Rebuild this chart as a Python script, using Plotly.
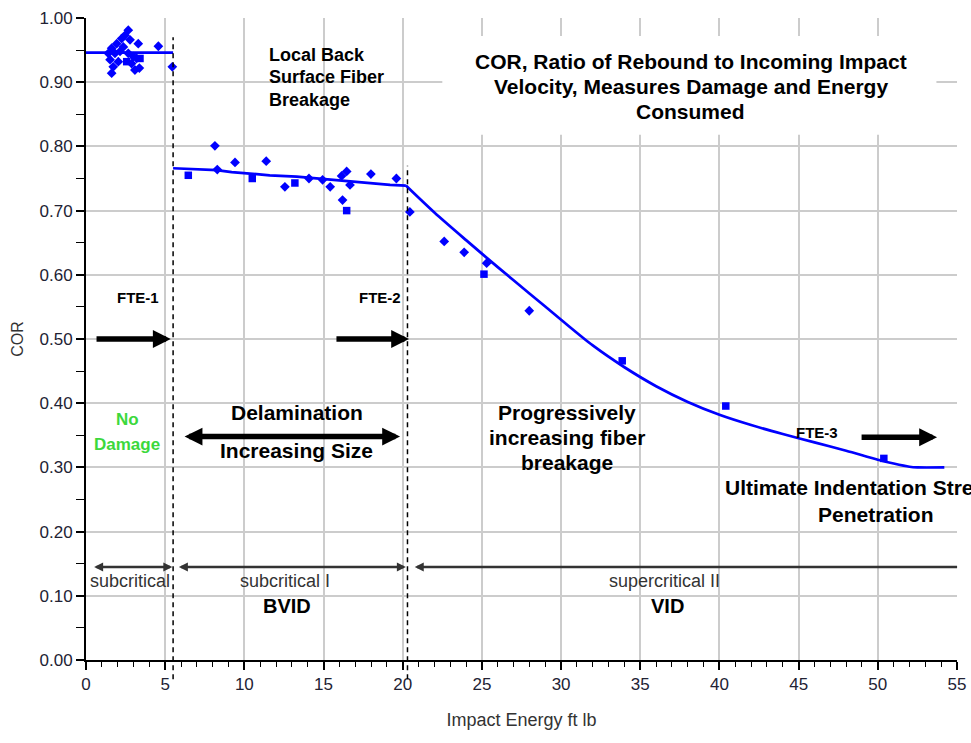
import plotly.graph_objects as go

# ---------------- data ----------------
diamond_x = [2.67, 2.46, 2.25, 3.30, 4.57, 1.94, 1.62, 1.41, 1.83, 2.15, 1.52, 2.04, 1.72, 1.62,
             2.67, 2.99, 3.20, 2.88, 3.09, 3.37, 2.36, 2.78, 5.45,
             8.14, 8.29, 9.41, 11.38, 12.56, 14.08, 14.94, 15.42, 16.14, 16.46, 16.67, 16.2,
             17.99, 19.6, 20.45, 22.62, 23.88, 25.3, 27.99]
diamond_y = [0.981, 0.973, 0.968, 0.960, 0.956, 0.960, 0.953, 0.945, 0.945, 0.948, 0.935, 0.932, 0.924, 0.914,
             0.945, 0.940, 0.937, 0.929, 0.919, 0.922, 0.955, 0.966, 0.924,
             0.801, 0.764, 0.775, 0.777, 0.737, 0.750, 0.748, 0.737, 0.754, 0.761, 0.740, 0.7165,
             0.757, 0.750, 0.698, 0.652, 0.635, 0.618, 0.544]
square_x = [3.41, 2.57, 6.46, 10.5, 13.19, 16.46, 25.13, 33.86, 40.4, 50.38]
square_y = [0.937, 0.932, 0.755, 0.750, 0.743, 0.700, 0.601, 0.466, 0.3956, 0.314]

fit_undamaged_x = [0.0, 5.5]
fit_undamaged_y = [0.946, 0.946]
fit_plateau_x = [5.5, 8.25, 9.2, 11.6, 13.3, 15.4, 17.7, 19.2, 20.2]
fit_plateau_y = [0.766, 0.763, 0.760, 0.755, 0.753, 0.748, 0.743, 0.740, 0.739]
fit_curve_x = [20.2, 22, 24, 26, 28, 30, 32, 34, 36, 38, 40, 42, 44, 46, 48, 50, 51, 52, 52.5, 54.2]
fit_curve_y = [0.739, 0.697, 0.654, 0.612, 0.571, 0.530, 0.490, 0.456, 0.4265, 0.402, 0.382, 0.366,
               0.352, 0.339, 0.326, 0.312, 0.306, 0.301, 0.300, 0.300]

x_ticks = [0, 5, 10, 15, 20, 25, 30, 35, 40, 45, 50, 55]
y_ticks = [0.0, 0.1, 0.2, 0.3, 0.4, 0.5, 0.6, 0.7, 0.8, 0.9, 1.0]

fte_lines = [5.5, 20.3]

BLUE = "#0000ff"
SANS = "Liberation Sans, Arial, sans-serif"
GREY_TXT = "#333333"

fig = go.Figure()
for fx, fy, shape in [(fit_undamaged_x, fit_undamaged_y, "linear"),
                      (fit_plateau_x, fit_plateau_y, "linear"),
                      (fit_curve_x, fit_curve_y, "spline")]:
    fig.add_trace(go.Scatter(x=fx, y=fy, mode="lines",
                             line=dict(color=BLUE, width=2.7, shape=shape, smoothing=0.8),
                             showlegend=False, hoverinfo="skip"))
fig.add_trace(go.Scatter(x=diamond_x, y=diamond_y, mode="markers",
                         marker=dict(symbol="diamond", size=7.5, color=BLUE, line=dict(width=0)),
                         showlegend=False))
fig.add_trace(go.Scatter(x=square_x, y=square_y, mode="markers",
                         marker=dict(symbol="square", size=7.5, color=BLUE, line=dict(width=0)),
                         showlegend=False))

shapes = []
for fx, ytop in zip(fte_lines, [0.97, 0.77]):
    shapes.append(dict(type="line", xref="x", yref="paper", x0=fx, x1=fx, y0=-0.03, y1=ytop,
                       line=dict(color="black", width=1.5, dash="5px,4px"), layer="above"))
shapes.append(dict(type="rect", xref="x", yref="y", x0=22.5, x1=53.7, y0=0.818, y1=0.972,
                   fillcolor="white", line=dict(width=0), layer="between"))


def arrow(xh, yh, xt, yt, width, size, both=False, color="black"):
    return dict(x=xh, y=yh, ax=xt, ay=yt, xref="x", yref="y", axref="x", ayref="y", text="",
                showarrow=True, arrowhead=2, arrowsize=size, arrowwidth=width, arrowcolor=color,
                arrowside="end+start" if both else "end", startarrowhead=2, startarrowsize=size,
                standoff=0, startstandoff=0)


def label(x, y, text, size, bold=True, color="black", xanchor="center"):
    return dict(x=x, y=y, xref="x", yref="y", text=(f"<b>{text}</b>" if bold else text),
                showarrow=False, xanchor=xanchor, yanchor="middle", align=xanchor if xanchor != "center" else "center",
                font=dict(family=SANS, size=size, color=color))


annotations = [
    arrow(5.35, 0.50, 0.57, 0.50, 5.5, 0.65),
    arrow(20.4, 0.50, 15.72, 0.50, 5.5, 0.65),
    arrow(53.74, 0.347, 48.88, 0.347, 5.5, 0.65),
    arrow(19.83, 0.348, 6.13, 0.348, 5.5, 0.65, both=True),
    arrow(5.45, 0.145, 0.42, 0.145, 2.5, 0.72, both=True, color=GREY_TXT),
    arrow(20.2, 0.145, 5.77, 0.145, 2.5, 0.72, both=True, color=GREY_TXT),
    arrow(20.76, 0.145, 55.1, 0.145, 2.5, 0.72, color=GREY_TXT),
    # Local back surface fibre breakage
    label(11.43, 0.942, "Local Back", 18, xanchor="left"),
    label(11.43, 0.908, "Surface Fiber", 18, xanchor="left"),
    label(11.43, 0.872, "Breakage", 18, xanchor="left"),
    # title box
    label(38.2, 0.933, "COR, Ratio of Rebound to Incoming Impact", 21),
    label(38.2, 0.894, "Velocity, Measures Damage and Energy", 21),
    label(38.2, 0.855, "Consumed", 21),
    # regions
    label(2.59, 0.374, "No", 17, color="#3cd83c"),
    label(2.59, 0.336, "Damage", 17, color="#3cd83c"),
    label(13.32, 0.386, "Delamination", 21),
    label(13.32, 0.327, "Increasing Size", 21),
    label(30.37, 0.386, "Progressively", 21),
    label(30.37, 0.346, "increasing fiber", 21),
    label(30.37, 0.307, "breakage", 21),
    label((723 - 86) / 15.836, 0.268, "Ultimate Indentation Strength", 21, xanchor="left"),
    label(49.9, 0.227, "Penetration", 21),
    label(3.28, 0.564, "FTE-1", 15),
    label(18.57, 0.564, "FTE-2", 15),
    label(46.16, 0.355, "FTE-3", 15),
    label(2.78, 0.123, "subcritical", 18, bold=False, color=GREY_TXT),
    label(12.57, 0.123, "subcritical I", 18, bold=False, color=GREY_TXT),
    label(36.56, 0.123, "supercritical II", 18, bold=False, color=GREY_TXT),
    label(12.69, 0.084, "BVID", 20),
    label(36.75, 0.084, "VID", 20),
]

fig.update_layout(
    width=971, height=743,
    margin=dict(l=86, r=14, t=18, b=83, autoexpand=False),
    paper_bgcolor="white", plot_bgcolor="white",
    shapes=shapes, annotations=annotations,
    showlegend=False,
    xaxis=dict(range=[0, 55], tickvals=x_ticks, ticktext=[str(v) for v in x_ticks],
               automargin=False,
               showgrid=True, gridcolor="#cccccc", gridwidth=1.5,
               showline=True, linecolor="black", linewidth=2,
               ticks="outside", ticklen=8, tickcolor="black", tickwidth=1.5,
               minor=dict(dtick=1, ticks="outside", ticklen=5, tickcolor="black", tickwidth=1.2, showgrid=False),
               zeroline=False,
               tickfont=dict(family=SANS, size=17, color="#222233"),
               title=dict(text="Impact Energy ft lb", font=dict(family=SANS, size=18, color=GREY_TXT),
                          standoff=20)),
    yaxis=dict(range=[0, 1], tickvals=y_ticks, ticktext=[f"{v:.2f}" for v in y_ticks],
               automargin=False,
               showgrid=True, gridcolor="#cccccc", gridwidth=1.5,
               showline=True, linecolor="black", linewidth=2,
               ticks="outside", ticklen=8, tickcolor="black", tickwidth=1.5,
               minor=dict(dtick=0.05, ticks="outside", ticklen=8, tickcolor="black", tickwidth=1.2, showgrid=False),
               zeroline=False,
               tickfont=dict(family=SANS, size=17, color="#222233"),
               title=dict(text="COR", font=dict(family=SANS, size=16, color=GREY_TXT), standoff=12)),
)

fig.write_html("out.html")
